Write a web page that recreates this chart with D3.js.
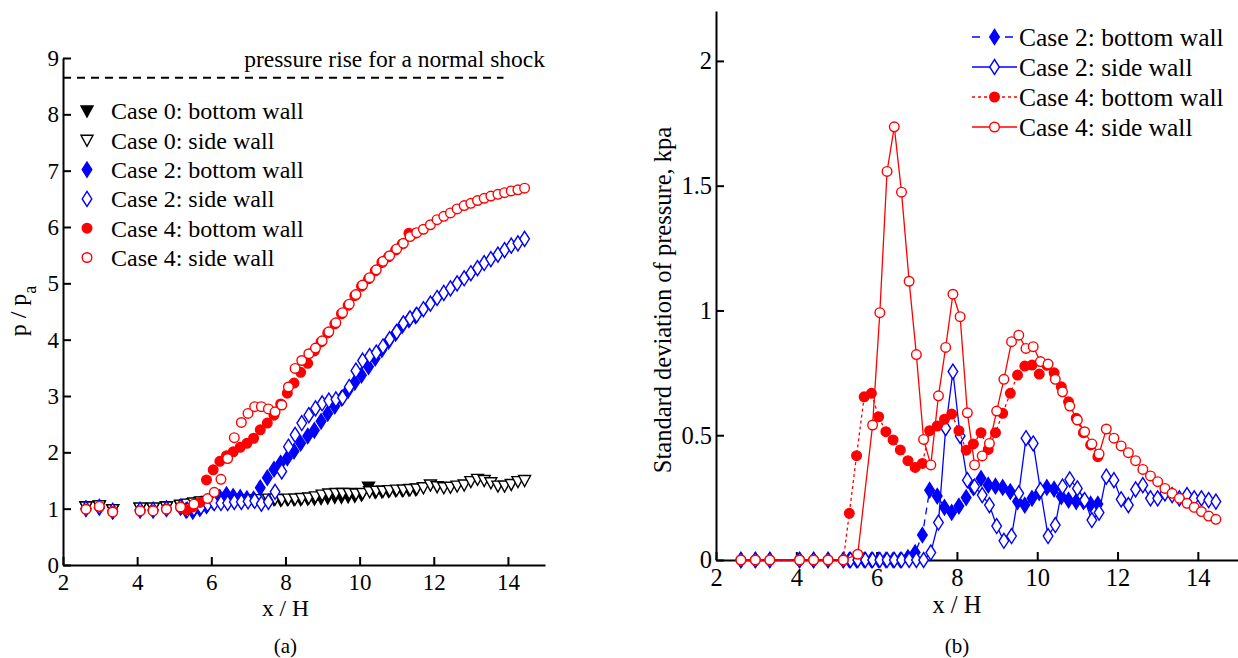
<!DOCTYPE html>
<html>
<head>
<meta charset="utf-8">
<script src="https://cdn.jsdelivr.net/npm/d3@7"></script>
<style>
  body { margin: 0; background: #fff; }
  text { font-family: "Liberation Serif", "Times New Roman", serif; fill: #000; }
</style>
</head>
<body>
<svg id="chart" width="1238" height="658"></svg>
<script>
// tap positions along the duct (x / H); bottom-wall taps sit a little upstream and stop at 11.5
var xSide = [2.62, 2.98, 3.34, 4.08, 4.43, 4.79, 5.17,
    5.35, 5.53, 5.72, 5.90, 6.08, 6.26, 6.44, 6.62, 6.81, 6.99,
    7.17, 7.35, 7.54, 7.72, 7.90, 8.08, 8.26, 8.44, 8.63, 8.81,
    8.99, 9.17, 9.36, 9.54, 9.72, 9.90, 10.08, 10.27, 10.45, 10.63,
    10.81, 11.00, 11.18, 11.36, 11.54, 11.72, 11.91, 12.09, 12.27, 12.45,
    12.63, 12.82, 13.00, 13.18, 13.36, 13.54, 13.73, 13.91, 14.09, 14.27,
    14.45];
var xBottom = [2.62, 2.98, 3.34, 4.08, 4.43, 4.79, 5.17,
    5.32, 5.50, 5.69, 5.87, 6.05, 6.23, 6.41, 6.59, 6.78, 6.96,
    7.14, 7.32, 7.51, 7.69, 7.87, 8.05, 8.23, 8.41, 8.60, 8.78,
    8.96, 9.14, 9.33, 9.51, 9.69, 9.87, 10.05, 10.24, 10.42, 10.60,
    10.78, 10.97, 11.15, 11.33, 11.51];

// (a) mean wall pressure p / pa
var p0Bottom = [1.03, 1.05, 0.98, 1.01, 1.01, 1.03, 1.05,
    1.07, 1.09, 1.11, 1.12, 1.13, 1.14, 1.14, 1.14, 1.14, 1.15,
    1.15, 1.15, 1.16, 1.16, 1.15, 1.16, 1.16, 1.16, 1.17, 1.17,
    1.18, 1.19, 1.20, 1.20, 1.21, 1.22, 1.24, 1.38, 1.29, 1.30,
    1.31, 1.32, 1.32, 1.33, 1.34];
var p0Side = [1.03, 1.05, 0.98, 1.01, 1.01, 1.03, 1.06,
    1.08, 1.10, 1.12, 1.13, 1.14, 1.15, 1.15, 1.15, 1.15, 1.16,
    1.16, 1.16, 1.17, 1.17, 1.16, 1.17, 1.17, 1.18, 1.19, 1.21,
    1.24, 1.26, 1.27, 1.27, 1.27, 1.26, 1.27, 1.30, 1.31, 1.31,
    1.32, 1.33, 1.33, 1.34, 1.35, 1.37, 1.42, 1.39, 1.37, 1.38,
    1.40, 1.42, 1.48, 1.52, 1.50, 1.46, 1.40, 1.40, 1.43, 1.48,
    1.50];
var p2Bottom = [1.00, 1.02, 0.95, 0.97, 0.97, 1.00, 1.02,
    0.97, 0.95, 1.00, 1.05, 1.12, 1.20, 1.25, 1.22, 1.20, 1.18,
    1.17, 1.37, 1.55, 1.70, 1.81, 1.90, 2.02, 2.16, 2.29, 2.39,
    2.55, 2.69, 2.82, 2.96, 3.10, 3.24, 3.37, 3.52, 3.67, 3.82,
    3.97, 4.11, 4.25, 4.35, 4.42];
var p2Side = [1.00, 1.03, 0.96, 0.98, 0.98, 1.00, 1.03,
    0.98, 1.00, 1.03, 1.08, 1.10, 1.10, 1.10, 1.12, 1.12, 1.13,
    1.14, 1.09, 1.12, 1.30, 1.66, 2.10, 2.31, 2.52, 2.66, 2.78,
    2.87, 2.92, 2.94, 2.97, 3.16, 3.45, 3.63, 3.71, 3.77, 3.88,
    4.01, 4.14, 4.29, 4.38, 4.44, 4.54, 4.64, 4.74, 4.83, 4.91,
    5.00, 5.09, 5.18, 5.27, 5.36, 5.43, 5.51, 5.59, 5.67, 5.71,
    5.79];
var p4Bottom = [0.99, 1.03, 0.95, 0.96, 0.97, 0.99, 1.02,
    0.98, 1.03, 1.11, 1.51, 1.69, 1.84, 1.94, 2.01, 2.09, 2.16,
    2.25, 2.40, 2.52, 2.66, 2.86, 3.05, 3.23, 3.42, 3.58, 3.80,
    3.96, 4.12, 4.28, 4.46, 4.61, 4.78, 4.95, 5.08, 5.22, 5.37,
    5.47, 5.59, 5.70, 5.89, 5.89];
var p4Side = [0.99, 1.04, 0.94, 0.96, 0.96, 0.99, 1.03,
    null, 1.08, null, 1.18, 1.29, 1.52, 1.89, 2.26, 2.53, 2.69,
    2.81, 2.81, 2.77, 2.72, 2.84, 3.16, 3.49, 3.63, 3.75, 3.85,
    3.98, 4.14, 4.30, 4.48, 4.63, 4.80, 4.97, 5.10, 5.24, 5.39,
    5.49, 5.61, 5.71, 5.83, 5.90, 5.96, 6.04, 6.13, 6.19, 6.25,
    6.32, 6.38, 6.42, 6.47, 6.51, 6.55, 6.58, 6.61, 6.64, 6.66,
    6.69];
var shockRatio = 8.65, shockEnd = 13.88;

// (b) standard deviation of pressure, kpa
var s2Bottom = [0, 0, 0, 0, 0, 0, 0,
    0, 0, 0, 0, 0, 0, 0, 0, 0.01, 0.03,
    0.10, 0.28, 0.256, 0.211, 0.191, 0.216, 0.25, 0.29, 0.327, 0.30,
    0.296, 0.291, 0.274, 0.234, 0.22, 0.247, 0.27, 0.291, 0.284, 0.254,
    0.24, 0.234, 0.234, 0.224, 0.224];
var s2Side = [0, 0, 0, 0, 0, 0, 0,
    0, 0, 0, 0, 0, 0, 0, 0, 0, 0,
    0, 0.03, 0.15, 0.528, 0.755, 0.497, 0.32, 0.294, 0.26, 0.22,
    0.136, 0.077, 0.096, 0.267, 0.488, 0.467, 0.28, 0.096, 0.14, 0.294,
    0.323, 0.287, 0.24, 0.16, 0.19, 0.334, 0.32, 0.243, 0.22, 0.283,
    0.30, 0.247, 0.247, 0.267, 0.26, 0.247, 0.26, 0.247, 0.247, 0.24,
    0.234];
var s4Bottom = [0, 0, 0, 0, 0, 0, 0,
    0.187, 0.418, 0.654, 0.668, 0.574, 0.514, 0.481, 0.441, 0.398, 0.371,
    0.387, 0.518, 0.537, 0.564, 0.585, 0.518, 0.44, 0.465, 0.51, 0.443,
    0.51, 0.588, 0.668, 0.741, 0.777, 0.781, 0.745, 0.78, 0.75, 0.694,
    0.634, 0.568, 0.51, 0.461, 0.414];
var s4Side = [0, 0, 0, 0, 0, 0, 0,
    null, 0.023, null, 0.541, 0.991, 1.557, 1.736, 1.474, 1.117, 0.823,
    0.483, 0.381, 0.658, 0.852, 1.065, 0.975, 0.59, 0.381, 0.417, 0.467,
    0.597, 0.724, 0.875, 0.901, 0.848, 0.855, 0.795, 0.785, 0.724, 0.674,
    0.617, 0.561, 0.514, 0.465, 0.425, 0.525, 0.488, 0.457, 0.43, 0.398,
    0.363, 0.337, 0.314, 0.287, 0.267, 0.247, 0.227, 0.211, 0.194, 0.176,
    0.163];

var xTicks = [2, 4, 6, 8, 10, 12, 14];
var pTicks = [0, 1, 2, 3, 4, 5, 6, 7, 8, 9];
var sTicks = [0, 0.5, 1, 1.5, 2];
var leftNames = ["Case 0: bottom wall", "Case 0: side wall", "Case 2: bottom wall",
    "Case 2: side wall", "Case 4: bottom wall", "Case 4: side wall"];
var rightNames = ["Case 2: bottom wall", "Case 2: side wall", "Case 4: bottom wall", "Case 4: side wall"];

var BLUE = "#0000ff", RED = "#ff0000";

function pairs(xs, ys) {
    return ys.map(function (v, i) { return {x: xs[i], y: v}; })
        .filter(function (d) { return d.y != null; });
}

// marker shapes
var shapes = {
    tri: "M-6,-5L6,-5L0,6Z",
    diamond: "M0,-7.5L4.8,0L0,7.5L-4.8,0Z"
};
function marker(sel, kind, color, filled) {
    var m;
    if (kind == "circle") {
        m = sel.append("circle").attr("r", 4.8);
    } else {
        m = sel.append("path").attr("d", shapes[kind]);
    }
    m.attr("fill", filled ? color : "#fff")
        .attr("stroke", color)
        .attr("stroke-width", 1.4);
    return m;
}

var svg = d3.select("#chart");

function styleAxis(g, size) {
    g.attr("font-family", null).attr("font-size", null);
    g.selectAll("path, line").attr("stroke", "#000").attr("stroke-width", 2);
    g.selectAll("text").style("font-size", size + "px");
}

function drawAxes(x, y, yTicks, size) {
    var gx = svg.append("g")
        .attr("transform", "translate(0," + y.range()[0] + ")")
        .call(d3.axisBottom(x).tickValues(xTicks).tickSizeInner(-8).tickSizeOuter(0).tickPadding(9));
    styleAxis(gx, size);
    var gy = svg.append("g")
        .attr("transform", "translate(" + x.range()[0] + ",0)")
        .call(d3.axisLeft(y).tickValues(yTicks).tickFormat(d3.format("~g")).tickSizeInner(-8).tickSizeOuter(0).tickPadding(4));
    styleAxis(gy, size);
}

// ---------- (a) ----------
var xL = d3.scaleLinear().domain([2, 15]).range([63, 545]);
var yL = d3.scaleLinear().domain([0, 9]).range([565, 58]);
drawAxes(xL, yL, pTicks, 23);

svg.append("line")
    .attr("x1", xL(2)).attr("x2", xL(shockEnd))
    .attr("y1", yL(shockRatio)).attr("y2", yL(shockRatio))
    .attr("stroke", "#000").attr("stroke-width", 2)
    .attr("stroke-dasharray", "8,6");
svg.append("text")
    .attr("x", xL(15)).attr("y", 67)
    .attr("text-anchor", "end")
    .style("font-size", "23.5px")
    .text("pressure rise for a normal shock");

var leftSeries = [
    {xs: xBottom, ys: p0Bottom, kind: "tri", color: "#000", filled: true},
    {xs: xSide, ys: p0Side, kind: "tri", color: "#000", filled: false},
    {xs: xBottom, ys: p2Bottom, kind: "diamond", color: BLUE, filled: true},
    {xs: xSide, ys: p2Side, kind: "diamond", color: BLUE, filled: false},
    {xs: xBottom, ys: p4Bottom, kind: "circle", color: RED, filled: true},
    {xs: xSide, ys: p4Side, kind: "circle", color: RED, filled: false}
];

leftSeries.forEach(function (s) {
    var g = svg.append("g")
        .selectAll("g")
        .data(pairs(s.xs, s.ys))
        .enter().append("g")
        .attr("transform", function (d) { return "translate(" + xL(d.x) + "," + yL(d.y) + ")"; });
    marker(g, s.kind, s.color, s.filled);
});

var legL = svg.append("g").selectAll("g")
    .data(leftSeries)
    .enter().append("g")
    .attr("transform", function (d, i) { return "translate(87," + (111 + i * 29.3) + ")"; });
legL.each(function (d) { marker(d3.select(this), d.kind, d.color, d.filled); });
legL.append("text")
    .attr("x", 24).attr("dy", "0.35em")
    .style("font-size", "24px")
    .text(function (d, i) { return leftNames[i]; });

var ylab = svg.append("text")
    .attr("transform", "translate(26,311) rotate(-90)")
    .attr("text-anchor", "middle")
    .style("font-size", "24px");
ylab.append("tspan").text("p / p");
ylab.append("tspan").attr("baseline-shift", "sub").style("font-size", "18px").text("a");

svg.append("text").attr("x", xL(8)).attr("y", 615.5).attr("text-anchor", "middle")
    .style("font-size", "23.5px").text("x / H");
svg.append("text").attr("x", xL(8)).attr("y", 653).attr("text-anchor", "middle")
    .style("font-size", "21px").text("(a)");

// ---------- (b) ----------
var xR = d3.scaleLinear().domain([2, 15]).range([716, 1238]);
var yR = d3.scaleLinear().domain([0, 2.2]).range([560, 11]);
drawAxes(xR, yR, sTicks, 24.5);

var rightSeries = [
    {xs: xBottom, ys: s2Bottom, kind: "diamond", color: BLUE, filled: true, dash: "7,5", key: "8,25"},
    {xs: xSide, ys: s2Side, kind: "diamond", color: BLUE, filled: false, dash: null, key: null},
    {xs: xBottom, ys: s4Bottom, kind: "circle", color: RED, filled: true, dash: "3,3", key: "3,3"},
    {xs: xSide, ys: s4Side, kind: "circle", color: RED, filled: false, dash: null, key: null}
];

var line = d3.line()
    .x(function (d) { return xR(d.x); })
    .y(function (d) { return yR(d.y); });

rightSeries.forEach(function (s) {
    var data = pairs(s.xs, s.ys);
    svg.append("path")
        .datum(data)
        .attr("d", line)
        .attr("fill", "none")
        .attr("stroke", s.color)
        .attr("stroke-width", 1.3)
        .attr("stroke-dasharray", s.dash);
    var g = svg.append("g")
        .selectAll("g")
        .data(data)
        .enter().append("g")
        .attr("transform", function (d) { return "translate(" + xR(d.x) + "," + yR(d.y) + ")"; });
    marker(g, s.kind, s.color, s.filled);
});

var legR = svg.append("g").selectAll("g")
    .data(rightSeries)
    .enter().append("g")
    .attr("transform", function (d, i) { return "translate(994.5," + (37 + i * 30) + ")"; });
legR.append("line")
    .attr("x1", -22.5).attr("x2", 22.5)
    .attr("stroke", function (d) { return d.color; })
    .attr("stroke-width", 1.3)
    .attr("stroke-dasharray", function (d) { return d.key; });
legR.each(function (d) { marker(d3.select(this), d.kind, d.color, d.filled); });
legR.append("text")
    .attr("x", 24.5).attr("dy", "0.35em")
    .style("font-size", "25.5px")
    .text(function (d, i) { return rightNames[i]; });

svg.append("text")
    .attr("transform", "translate(671,300) rotate(-90)")
    .attr("text-anchor", "middle")
    .style("font-size", "24.5px")
    .text("Standard deviation of pressure, kpa");

svg.append("text").attr("x", xR(8)).attr("y", 613).attr("text-anchor", "middle")
    .style("font-size", "24.5px").text("x / H");
svg.append("text").attr("x", xR(8)).attr("y", 653).attr("text-anchor", "middle")
    .style("font-size", "21px").text("(b)");
</script>
</body>
</html>
